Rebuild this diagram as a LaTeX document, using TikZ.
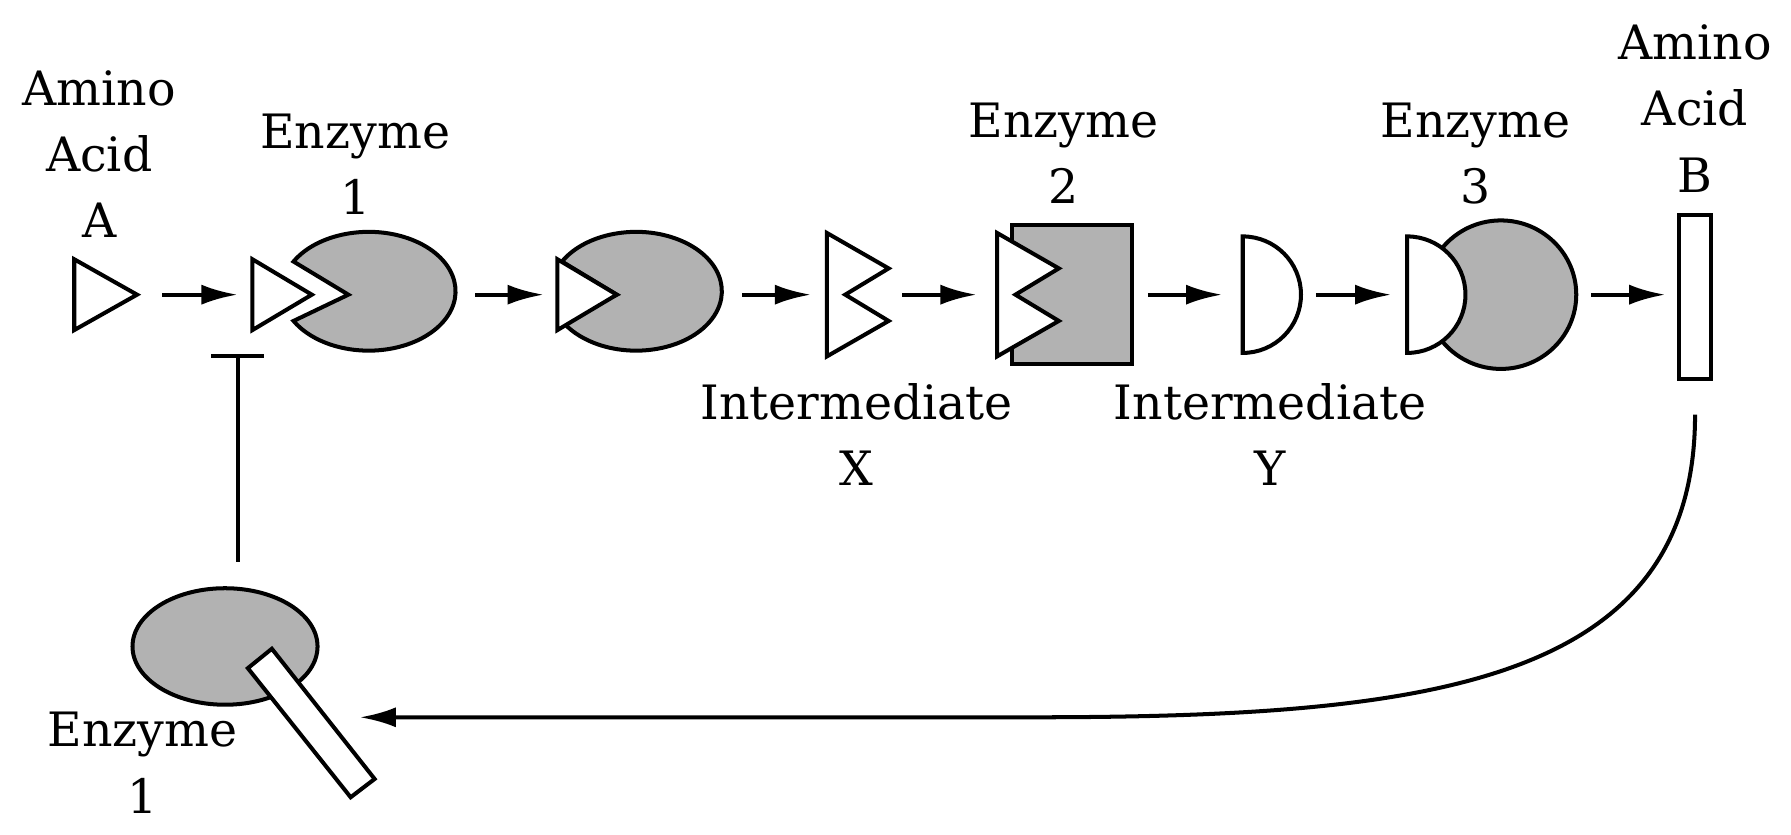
\documentclass[tikz,border=0pt]{standalone}
\usepackage{fontspec}
\setmainfont{DejaVu Serif}
\usetikzlibrary{arrows.meta}
\begin{document}
\begin{tikzpicture}[x=0.1mm,y=-0.1mm,line width=1pt,
    enz/.style={draw,fill=black!30},
    sub/.style={draw,fill=white},
    lbl/.style={align=center,font=\fontsize{11.8}{16.5}\selectfont,inner sep=0pt,anchor=north},
    rxn/.style={-{Latex[length=9pt,width=5pt]}}]
    \useasboundingbox (0,0) rectangle (1568,731);

    % amino acid A
    \draw [sub] (65,227)--(65,289)--(120,258)--cycle;
    \node [lbl] (lA) at (87,60) {Amino\\Acid\\A};

    % enzyme 1 with free substrate
    \draw [enz] (305,258)--(257,229) arc[start angle=150,end angle=-150,x radius=76,y radius=-52]--cycle;
    \draw [sub] (221,227)--(221,289)--(273,258)--cycle;
    \node [lbl] (lE1) at (311,98) {Enzyme\\1};

    % enzyme 1 bound
    \draw [enz] (540,258)--(492,229) arc[start angle=150,end angle=-150,x radius=75,y radius=-52]--cycle;
    \draw [sub] (488,227)--(488,289)--(540,258)--cycle;

    % intermediate X
    \draw [sub] (724,204)--(778,235)--(740,258)--(778,281)--(724,312)--cycle;
    \node [lbl] (lX) at (750,334) {Intermediate\\X};

    % enzyme 2
    \draw [enz] (886,197) rectangle (991,319);
    \draw [sub] (873,204)--(927,235)--(889,258)--(927,281)--(873,312)--cycle;
    \node [lbl] (lE2) at (931,88) {Enzyme\\2};

    % intermediate Y
    \draw [sub] (1088,207) arc[start angle=90,end angle=-90,x radius=51,y radius=-51]--cycle;
    \node [lbl] (lY) at (1112,334) {Intermediate\\Y};

    % enzyme 3
    \draw [enz] (1314,258) circle[x radius=66,y radius=65];
    \draw [sub] (1232,207) arc[start angle=90,end angle=-90,x radius=51,y radius=-51]--cycle;
    \node [lbl] (lE3) at (1292,88) {Enzyme\\3};

    % amino acid B
    \draw [sub] (1470,188) rectangle (1498,332);
    \node [lbl] (lB) at (1484,20) {Amino\\Acid\\B};

    % reaction steps
    \foreach \a/\b in {142/208,416/476,650/710,790/855,1005/1070,1152/1218,1393/1458}
        \draw [rxn] (\a,258)--(\b,258);

    % feedback
    \coordinate (fbS) at (1484,363);
    \coordinate (fbE) at (315,628);
    \draw [rxn] (fbS) .. controls (1484,600) and (1250,628) .. (900,628)--(fbE);

    % inhibited enzyme 1
    \draw [enz] (197,566) ellipse[x radius=81,y radius=51];
    \draw [sub] (217,585)--(238,568)--(328,682)--(307,698)--cycle;
    \node [lbl] (lE1b) at (125,622) {Enzyme\\1};

    \coordinate (inS) at (208,492);
    \coordinate (inE) at (208,310);
    \draw [-{Bar[width=13pt]}] (inS)--(inE);
\end{tikzpicture}
\end{document}
